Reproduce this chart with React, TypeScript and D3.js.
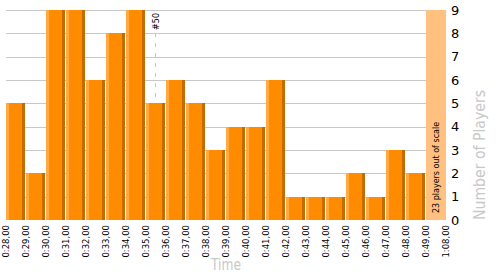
import React from 'react';
import * as d3 from 'd3';

const tickLabels = ['0:28,00','0:29,00','0:30,00','0:31,00','0:32,00','0:33,00','0:34,00','0:35,00','0:36,00','0:37,00','0:38,00','0:39,00','0:40,00','0:41,00','0:42,00','0:43,00','0:44,00','0:45,00','0:46,00','0:47,00','0:48,00','0:49,00','1:08,00'];
const counts = [5,2,9,9,6,8,9,5,6,5,3,4,4,6,1,1,1,2,1,3,2];
const outOfScaleCount = 23;
const yTicks = [0,1,2,3,4,5,6,7,8,9];
const markerLabel = '#50';
const markerBin = 7.45;

const W = 500, H = 275;
const FONT = 'DejaVu Sans, Verdana, sans-serif';

export default function App() {
  const x = d3.scaleLinear().domain([0, tickLabels.length - 1]).range([6, 446]);
  const y = d3.scaleLinear().domain([0, 9]).range([220, 10]);
  const bw = x(1) - x(0);
  const outIdx = counts.length;
  const mx = Math.round(x(markerBin)) + 0.5;
  return (
    <svg width={W} height={H} style={{ position: 'absolute', left: 0, top: 0, background: '#fff' }}>
      {/* gridlines */}
      {yTicks.filter(t => t > 0).map(t => (
        <line key={'g' + t} x1={x(0)} x2={x(outIdx)} y1={Math.round(y(t)) + 0.5} y2={Math.round(y(t)) + 0.5} stroke="#c8c8c8" strokeWidth={1} />
      ))}
      {/* marker */}
      <line x1={mx} x2={mx} y1={33} y2={y(0)} stroke="#c8c8c8" strokeWidth={1} strokeDasharray="4,6" />
      <text transform={`translate(${mx + 3},13) rotate(-90)`} textAnchor="end" fontFamily={FONT} fontSize={8} fill="#000">{markerLabel}</text>
      {/* bars */}
      {counts.map((c, i) => {
        const x0 = Math.round(x(i));
        const yt = Math.round(y(c));
        const h = y(0) - yt;
        return (
          <g key={'b' + i}>
            <rect x={x0} y={yt} width={bw - 1} height={h} fill="#ff8c00" />
            <rect x={x0} y={yt} width={3} height={h} fill="#ffa940" />
            <rect x={x0 + bw - 4} y={yt} width={3} height={h} fill="#c46c00" />
          </g>
        );
      })}
      {/* out of scale */}
      <rect x={x(outIdx)} y={y(9)} width={bw} height={y(0) - y(9)} fill="#ffc080" />
      <text transform={`translate(${x(outIdx) + bw / 2},213) rotate(-90)`} dy="0.35em" textAnchor="start" fontFamily={FONT} fontSize={8} fill="#000">{`${outOfScaleCount} players out of scale`}</text>
      {/* x tick labels */}
      {tickLabels.map((l, i) => (
        <text key={'x' + i} transform={`translate(${x(i)},225) rotate(-90)`} dy="0.35em" textAnchor="end" fontFamily={FONT} fontSize={8.5} fill="#000">{l}</text>
      ))}
      {/* y tick labels */}
      {yTicks.map(t => (
        <text key={'y' + t} x={451} y={y(t)} dy="0.35em" fontFamily={FONT} fontSize={13} fill="#000">{t}</text>
      ))}
      {/* axis titles */}
      <text x={226} y={270} textAnchor="middle" fontFamily={FONT} fontSize={16} fill="#c8c8c8" textLength={30} lengthAdjust="spacingAndGlyphs">Time</text>
      <text transform={`translate(485,220) rotate(-90)`} textAnchor="start" fontFamily={FONT} fontSize={16} fill="#c8c8c8" textLength={130} lengthAdjust="spacingAndGlyphs">Number of Players</text>
    </svg>
  );
}
